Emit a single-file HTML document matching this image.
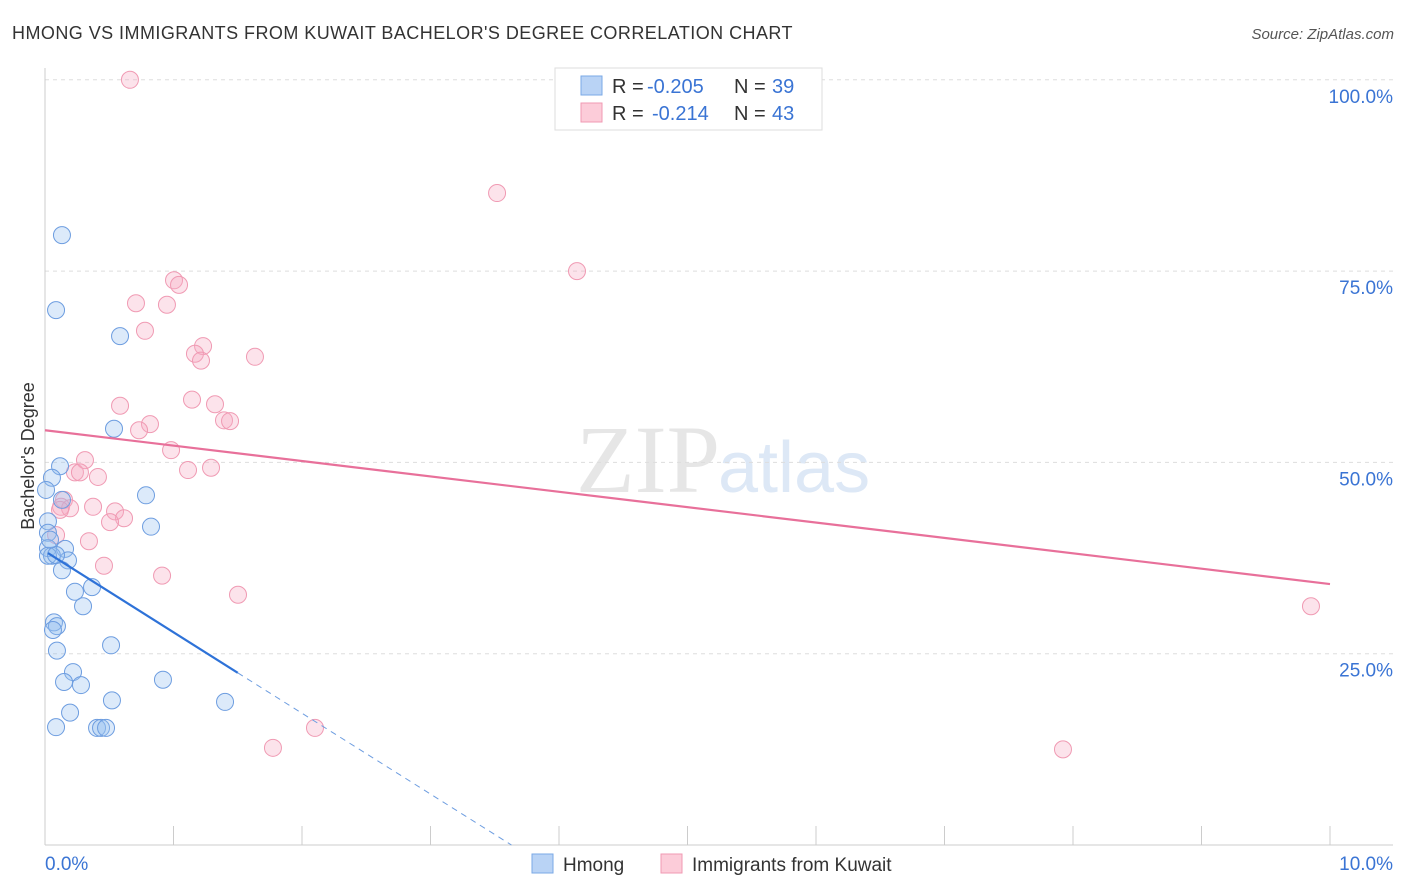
<!DOCTYPE html>
<html><head><meta charset="utf-8"><style>
body{margin:0;background:#fff;font-family:"Liberation Sans",sans-serif}
svg{display:block}
</style></head><body>
<svg id="c" width="1406" height="892" xmlns="http://www.w3.org/2000/svg">
<text x="12" y="39" font-size="18" letter-spacing="0.45" fill="#333">HMONG VS IMMIGRANTS FROM KUWAIT BACHELOR'S DEGREE CORRELATION CHART</text>
<text x="1394" y="39" font-size="15" fill="#555" font-style="italic" text-anchor="end">Source: ZipAtlas.com</text>
<text x="720" y="492" font-size="96" fill="#e6e6e6" text-anchor="end" font-family="Liberation Serif">ZIP</text>
<text x="718" y="492" font-size="72" fill="#dde8f6">atlas</text>
<g id="grid"></g><g id="pts"></g><g id="lines"></g>
<text transform="translate(34,456) rotate(-90)" font-size="18" fill="#333" text-anchor="middle">Bachelor's Degree</text>
<rect x="555" y="68" width="267" height="62" fill="#fff" stroke="#ddd"/>
<rect x="581" y="76" width="21" height="19" fill="#b9d3f5" stroke="#7aa8e6"/>
<rect x="581" y="103" width="21" height="19" fill="#fcccd9" stroke="#f09ab3"/>
<g font-size="20">
<text x="612" y="93" fill="#333">R =</text><text x="647" y="93" fill="#3a74d4">-0.205</text>
<text x="734" y="93" fill="#333">N =</text><text x="772" y="93" fill="#3a74d4">39</text></g>
<g font-size="20">
<text x="612" y="120" fill="#333">R =</text><text x="652" y="120" fill="#3a74d4">-0.214</text>
<text x="734" y="120" fill="#333">N =</text><text x="772" y="120" fill="#3a74d4">43</text></g>
<rect x="532" y="854" width="21" height="19" fill="#b9d3f5" stroke="#7aa8e6"/>
<text x="563" y="871" font-size="19" fill="#333">Hmong</text>
<rect x="661" y="854" width="21" height="19" fill="#fcccd9" stroke="#f09ab3"/>
<text x="692" y="871" font-size="19" fill="#333">Immigrants from Kuwait</text>
</svg>
<script>
const yTicks=[25,50,75,100];
const yTickLabels=["25.0%","50.0%","75.0%","100.0%"];
const xTicks=[0,1,2,3,4,5,6,7,8,9,10];
const xTickLabels=["0.0%","10.0%"];
const hmongX=[0.132,0.086,0.584,0.537,0.117,0.786,0.054,0.132,0.023,0.825,0.023,0.023,0.156,0.054,0.179,0.132,0.366,0.233,0.296,0.070,0.093,0.062,0.514,0.093,0.218,0.148,0.280,0.918,0.521,1.401,0.195,0.086,0.405,0.436,0.475,0.023,0.086,0.039,0.008];
const hmongY=[79.7,69.9,66.5,54.4,49.5,45.7,48.0,45.1,42.3,41.6,40.8,38.8,38.7,37.8,37.2,35.9,33.7,33.1,31.2,29.1,28.6,28.1,26.1,25.4,22.6,21.3,20.9,21.6,18.9,18.7,17.3,15.4,15.3,15.3,15.3,37.8,37.9,39.9,46.4];
const kuwX=[0.661,3.518,4.140,1.004,1.043,0.708,0.949,0.778,1.230,1.167,1.214,1.634,0.584,1.144,1.323,1.393,1.440,0.817,0.732,0.981,0.311,1.113,1.292,0.233,0.272,0.412,0.148,0.125,0.195,0.374,0.545,0.615,0.506,0.342,0.086,0.459,0.911,1.502,1.774,2.101,7.922,9.852,0.117];
const kuwY=[100,85.2,75.0,73.8,73.2,70.8,70.6,67.2,65.2,64.2,63.3,63.8,57.4,58.2,57.6,55.5,55.4,55.0,54.2,51.6,50.3,49.0,49.3,48.7,48.7,48.1,45.1,44.2,44.0,44.2,43.6,42.7,42.2,39.7,40.5,36.5,35.2,32.7,12.7,15.3,12.5,31.2,43.8];
const hmongTrend=[38.4,-10.6]; // intercept, slope
const hmongTrendRange=[0.023,1.50,3.63];
const kuwTrend=[54.2,-2.01];
const kuwTrendRange=[0,10];
const X=v=>45+v*128.5, Y=v=>845-v*7.652;
const NS="http://www.w3.org/2000/svg";
function mk(p,t,a){const e=document.createElementNS(NS,t);for(const k in a)e.setAttribute(k,a[k]);document.getElementById(p).appendChild(e);return e;}
yTicks.forEach((t,i)=>{
 let l=mk('grid','line',{x1:45,x2:1393,y1:Y(t),y2:Y(t),stroke:"#ddd","stroke-dasharray":"4,4"});
 
 
 let tx=mk('grid','text',{x:1393,y:Y(t)+23,"font-size":19,fill:"#3a74d4","text-anchor":"end"});
 tx.textContent=yTickLabels[i];
 
 
});
let ax=mk('grid','line',{x1:45,x2:45,y1:68,y2:845,stroke:"#ccc"});


let bx=mk('grid','line',{x1:45,x2:1393,y1:845,y2:845,stroke:"#ccc"});


xTicks.forEach(t=>{
 let l=mk('grid','line',{x1:X(t),x2:X(t),y1:826,y2:845,stroke:"#ccc"});
 
 
});
[[0,"start",45],[10,"end",1393]].forEach((d,i)=>{
 let tx=mk('grid','text',{x:d[2],y:870,"font-size":19,fill:"#3a74d4","text-anchor":d[1]});
 tx.textContent=xTickLabels[i];
 
 
});
kuwX.forEach((x,i)=>{
 let c=mk('pts','circle',{cx:X(x),cy:Y(kuwY[i]),r:8.5,fill:"rgba(247,170,195,0.33)",stroke:"#f09ab3","stroke-width":1});
 
 
});
hmongX.forEach((x,i)=>{
 let c=mk('pts','circle',{cx:X(x),cy:Y(hmongY[i]),r:8.5,fill:"rgba(150,190,240,0.33)",stroke:"#6d9de0","stroke-width":1});
 
 
});
const f=(t,x)=>t[0]+t[1]*x;
let l1=mk('lines','line',{x1:X(kuwTrendRange[0]),y1:Y(f(kuwTrend,kuwTrendRange[0])),x2:X(kuwTrendRange[1]),y2:Y(f(kuwTrend,kuwTrendRange[1])),stroke:"#e8709a","stroke-width":2.2});


let l2=mk('lines','line',{x1:X(hmongTrendRange[0]),y1:Y(f(hmongTrend,hmongTrendRange[0])),x2:X(hmongTrendRange[1]),y2:Y(f(hmongTrend,hmongTrendRange[1])),stroke:"#2e72d8","stroke-width":2.2});


let l3=mk('lines','line',{x1:X(hmongTrendRange[1]),y1:Y(f(hmongTrend,hmongTrendRange[1])),x2:X(hmongTrendRange[2]),y2:Y(Math.max(0,f(hmongTrend,hmongTrendRange[2]))),stroke:"#6d9de0","stroke-width":1,"stroke-dasharray":"6,5"});


</script>
</body></html>
